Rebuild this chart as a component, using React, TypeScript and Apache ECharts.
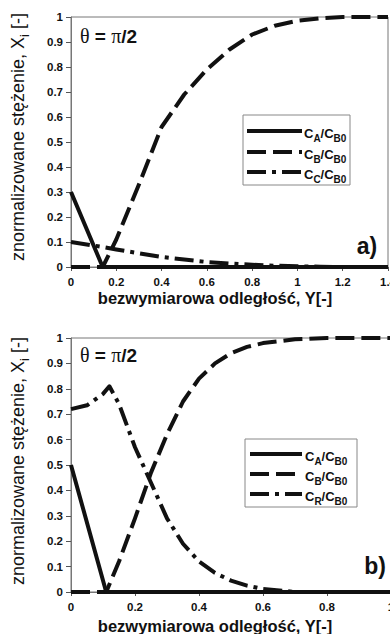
import React, { useEffect, useRef } from "react";
import * as echarts from "echarts";

// ---- data: panel a) ----
const aX_A = [0, 0.14, 1.4];
const aY_A = [0.3, 0, 0];
const aX_B = [0, 0.14, 0.2, 0.3, 0.4, 0.5, 0.6, 0.7, 0.8, 0.9, 1.0, 1.1, 1.2, 1.4];
const aY_B = [0, 0, 0.11, 0.33, 0.56, 0.69, 0.79, 0.87, 0.93, 0.965, 0.985, 0.995, 1, 1];
const aX_C = [0, 0.14, 0.2, 0.3, 0.4, 0.5, 0.6, 0.7, 0.8, 0.9, 1.0, 1.1, 1.2, 1.4];
const aY_C = [0.1, 0.08, 0.07, 0.055, 0.04, 0.03, 0.02, 0.014, 0.009, 0.005, 0.003, 0.001, 0, 0];

// ---- data: panel b) ----
const bX_A = [0, 0.11, 1];
const bY_A = [0.5, 0, 0];
const bX_B = [0, 0.11, 0.15, 0.2, 0.25, 0.3, 0.35, 0.4, 0.45, 0.5, 0.55, 0.6, 0.7, 0.8, 1];
const bY_B = [0, 0, 0.12, 0.29, 0.47, 0.62, 0.75, 0.84, 0.9, 0.94, 0.965, 0.98, 0.995, 1, 1];
const bX_R = [0, 0.05, 0.1, 0.12, 0.15, 0.2, 0.25, 0.3, 0.35, 0.4, 0.45, 0.5, 0.55, 0.6, 0.7, 1];
const bY_R = [0.72, 0.735, 0.78, 0.81, 0.74, 0.57, 0.43, 0.29, 0.19, 0.12, 0.075, 0.045, 0.025, 0.012, 0, 0];

const yTicks = ["0", "0.1", "0.2", "0.3", "0.4", "0.5", "0.6", "0.7", "0.8", "0.9", "1"];
const xTicksA = ["0", "0.2", "0.4", "0.6", "0.8", "1", "1.2", "1.4"];
const xTicksB = ["0", "0.2", "0.4", "0.6", "0.8", "1"];

const legendA = ["C{s|A}/C{s|B0}", "C{s|B}/C{s|B0}", "C{s|C}/C{s|B0}"];
const legendB = ["C{s|A}/C{s|B0}", "C{s|B}/C{s|B0}", "C{s|R}/C{s|B0}"];
const xTitle = "bezwymiarowa odległość, Y[-]";
const yTitle = "znormalizowane stężenie, X{s|i} [-]";
const thetaText = "{g|θ}{b| = }{g|π}{b|/2}";

const SANS = "'Liberation Sans', Arial, Helvetica, sans-serif";
const SERIF = "'Liberation Serif', 'Times New Roman', serif";
const INK = "#111";

const zip = (xs: number[], ys: number[]) => xs.map((x, i) => [x, ys[i]]);

const SOLID = "solid";
const DASH = [19, 7];
const DASHDOT = [19, 6, 4, 6];

export default function App() {
  const ref = useRef<HTMLDivElement>(null);
  useEffect(() => {
    if (!ref.current) return;
    const chart = echarts.init(ref.current, null, { renderer: "svg" });

    const axisLabelY = {
      fontFamily: SANS,
      fontWeight: "bold" as const,
      fontSize: 11.5,
      color: INK,
      margin: 8,
      formatter: (v: number) => yTicks[Math.round(v * 10)] ?? "",
    };
    const mkX = (gi: number, max: number, ticks: string[]) => ({
      type: "value",
      gridIndex: gi,
      min: 0,
      max,
      interval: 0.2,
      axisLine: { show: true, lineStyle: { color: "#777", width: 1 } },
      axisTick: { show: true, inside: false, length: 4, lineStyle: { color: "#555" } },
      splitLine: { show: false },
      axisLabel: {
        fontFamily: SANS,
        fontWeight: "bold",
        fontSize: 11.5,
        color: INK,
        margin: 9,
        formatter: (v: number) => ticks[Math.round(v * 5)] ?? "",
      },
    });
    const mkY = (gi: number) => ({
      type: "value",
      gridIndex: gi,
      min: 0,
      max: 1,
      interval: 0.1,
      axisLine: { show: true, lineStyle: { color: "#777", width: 1 } },
      axisTick: { show: true, inside: false, length: 5, lineStyle: { color: "#555" } },
      splitLine: { show: false },
      axisLabel: axisLabelY,
    });
    const ser = (gi: number, data: number[][], type: any, z: number) => ({
      type: "line",
      xAxisIndex: gi,
      yAxisIndex: gi,
      data,
      symbol: "none",
      smooth: false,
      z,
      lineStyle: { color: INK, width: 4, type, cap: "butt", join: "round" },
    });

    const legend = (x: number, y: number, w: number, h: number, rows: number[], labels: string[], lx1: number, lx2: number, tx: number) => {
      const styles = [SOLID, DASH, DASHDOT];
      const els: any[] = [
        { type: "rect", shape: { x, y, width: w, height: h }, style: { fill: "#fff", stroke: "#888", lineWidth: 1 }, z: 100 },
      ];
      rows.forEach((ry, i) => {
        els.push({
          type: "line",
          shape: { x1: lx1, y1: ry, x2: lx2, y2: ry },
          style: { stroke: INK, lineWidth: 4, lineDash: styles[i] === SOLID ? null : styles[i], lineCap: "butt" },
          z: 101,
        });
        els.push({
          type: "text",
          x: tx,
          y: ry + 2,
          z: 101,
          style: {
            text: labels[i],
            fontFamily: SANS,
            fontWeight: "bold",
            fontSize: 13,
            lineHeight: 20,
            fill: INK,
            verticalAlign: "middle",
            align: "left",
            rich: {
              s: { fontFamily: SANS, fontWeight: "bold", fontSize: 10, lineHeight: 10, fill: INK, verticalAlign: "bottom" },
            },
          },
        });
      });
      return els;
    };

    const yTitleText = (x: number, y: number) => ({
      type: "text",
      x,
      y,
      rotation: Math.PI / 2,
      z: 50,
      style: {
        text: yTitle,
        fontFamily: SANS,
        fontWeight: "normal",
        fontSize: 18,
        lineHeight: 26,
        fill: INK,
        align: "center",
        verticalAlign: "middle",
        rich: { s: { fontFamily: SANS, fontWeight: "normal", fontSize: 13, lineHeight: 13, fill: INK, verticalAlign: "bottom" } },
      },
    });
    const xTitleText = (x: number, y: number) => ({
      type: "text",
      x,
      y,
      z: 50,
      style: {
        text: xTitle,
        fontFamily: SANS,
        fontWeight: "bold",
        fontSize: 16.5,
        lineHeight: 16,
        fill: INK,
        align: "center",
        verticalAlign: "middle",
      },
    });
    const theta = (x: number, y: number) => ({
      type: "text",
      x,
      y,
      z: 50,
      style: {
        text: thetaText,
        verticalAlign: "middle",
        align: "left",
        fill: INK,
        rich: {
          g: { fontFamily: SERIF, fontSize: 20, fill: INK },
          b: { fontFamily: SANS, fontWeight: "bold", fontSize: 19, fill: INK },
        },
      },
    });
    const panelTag = (x: number, y: number, t: string) => ({
      type: "text",
      x,
      y,
      z: 50,
      style: { text: t, fontFamily: SANS, fontWeight: "bold", fontSize: 23, fill: INK, align: "center", verticalAlign: "middle" },
    });

    chart.setOption({
      animation: false,
      backgroundColor: "#fff",
      grid: [
        { left: 71, top: 17, width: 317, height: 250, show: true, borderColor: "#777", borderWidth: 1, backgroundColor: "transparent", containLabel: false, outerBoundsMode: "none" },
        { left: 71, top: 338, width: 320, height: 254, show: true, borderColor: "#777", borderWidth: 1, backgroundColor: "transparent", containLabel: false, outerBoundsMode: "none" },
      ],
      xAxis: [mkX(0, 1.4, xTicksA), mkX(1, 1, xTicksB)],
      yAxis: [mkY(0), mkY(1)],
      series: [
        ser(0, zip(aX_C, aY_C), DASHDOT, 3),
        ser(0, zip(aX_B, aY_B), DASH, 4),
        ser(0, zip(aX_A, aY_A), SOLID, 5),
        ser(1, zip(bX_R, bY_R), DASHDOT, 3),
        ser(1, zip(bX_B, bY_B), DASH, 4),
        ser(1, zip(bX_A, bY_A), SOLID, 5),
      ],
      graphic: [
        ...legend(243, 115, 107, 70, [131, 152, 172], legendA, 247, 302, 304),
        ...legend(245, 439, 112, 68, [454, 474, 494], legendB, 250, 302, 305),
        yTitleText(18, 137),
        yTitleText(18, 461),
        xTitleText(215, 298),
        xTitleText(215, 626),
        theta(80, 36),
        theta(80, 355),
        panelTag(367, 246, "a)"),
        panelTag(375, 566, "b)"),
      ],
    });
    return () => chart.dispose();
  }, []);
  return <div ref={ref} style={{ position: "absolute", left: 0, top: 0, width: 390, height: 634 }} />;
}
